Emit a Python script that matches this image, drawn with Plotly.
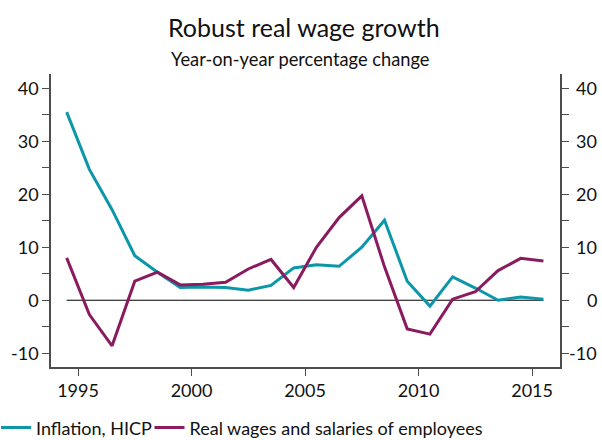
import plotly.graph_objects as go

# ---- data ----
years = list(range(1994, 2016))  # annual observations, plotted at mid-year
inflation_hicp = [35.5, 24.7, 17.1, 8.4, 5.3, 2.4, 2.5, 2.4, 1.9, 2.8, 6.1, 6.7,
                  6.4, 10.0, 15.1, 3.6, -1.1, 4.4, 2.3, 0.0, 0.6, 0.2]
real_wages = [8.0, -2.7, -8.6, 3.6, 5.3, 2.9, 3.0, 3.4, 5.9, 7.7, 2.4, 10.0,
              15.6, 19.7, 6.3, -5.4, -6.4, 0.2, 1.6, 5.6, 7.9, 7.4]
x_tick_years = [1995, 2000, 2005, 2010, 2015]
y_tick_vals = [-10, -5, 0, 5, 10, 15, 20, 25, 30, 35, 40]
y_label_vals = [-10, 0, 10, 20, 30, 40]

title_text = "Robust real wage growth"
subtitle_text = "Year-on-year percentage change"
series_names = ["Inflation, HICP", "Real wages and salaries of employees"]

TEAL = "#0B97A8"
PURPLE = "#8A1B5F"
AXIS = "#4d4d4d"
FONT = "Lato"
TXT = "#111111"

xpos = [y + 0.5 for y in years]

fig = go.Figure()
# zero reference line across the data span
fig.add_trace(go.Scatter(x=[xpos[0], xpos[-1]], y=[0, 0], mode="lines",
                         line=dict(color="black", width=1), showlegend=False,
                         hoverinfo="skip"))
fig.add_trace(go.Scatter(x=xpos, y=inflation_hicp, mode="lines", name=series_names[0],
                         line=dict(color=TEAL, width=3), legend="legend"))
fig.add_trace(go.Scatter(x=xpos, y=real_wages, mode="lines", name=series_names[1],
                         line=dict(color=PURPLE, width=3), legend="legend2"))

def fmt(v):
    return f"{v:d}" if v >= 0 else f"-{abs(v):d}"

tick_text = [fmt(v) if v in y_label_vals else "" for v in y_tick_vals]

legend_common = dict(orientation="h", xanchor="left", y=-0.2077, yanchor="middle",
                     font=dict(family=FONT, size=18, color=TXT),
                     itemwidth=30, bgcolor="rgba(0,0,0,0)")

fig.update_layout(
    width=602, height=440,
    margin=dict(l=51, r=42, t=74, b=73, autoexpand=False),
    paper_bgcolor="white", plot_bgcolor="white",
    font=dict(family=FONT, size=18, color=TXT),
    showlegend=True,
    legend=dict(x=-0.108, **legend_common),
    legend2=dict(x=0.1935, **legend_common),
    xaxis=dict(range=[1993.81, 2016.23], tickmode="array", tickvals=x_tick_years,
               ticktext=[str(v) for v in x_tick_years], automargin=False,
               ticks="outside", ticklen=7, tickwidth=1.2, tickcolor=AXIS,
               showline=True, linecolor=AXIS, linewidth=1.5, showgrid=False,
               zeroline=False, tickfont=dict(size=18)),
    yaxis=dict(range=[-12.6, 42.7], tickmode="array", tickvals=y_tick_vals,
               ticktext=tick_text, ticks="outside", ticklen=7, tickwidth=1.2,
               tickcolor=AXIS, showline=True, mirror="ticks", linecolor=AXIS,
               linewidth=1.5, showgrid=False, zeroline=False, automargin=False,
               tickfont=dict(size=18)),
)

annotations = [
    dict(text=title_text, xref="paper", yref="paper", x=0.497, y=1.162,
         xanchor="center", yanchor="middle", showarrow=False,
         font=dict(family=FONT, size=25, color=TXT)),
    dict(text=subtitle_text, xref="paper", yref="paper", x=0.49, y=1.05,
         xanchor="center", yanchor="middle", showarrow=False,
         font=dict(family=FONT, size=18.3, color=TXT)),
]
# right-hand axis labels (right aligned, as in the reference)
for v in y_label_vals:
    annotations.append(dict(text=fmt(v), xref="paper", yref="y", x=1.076, y=v,
                            xanchor="right", yanchor="middle", showarrow=False,
                            font=dict(family=FONT, size=18, color=TXT)))
fig.update_layout(annotations=annotations)

fig.write_html("out.html", config={"displayModeBar": False},
               post_script="document.body.style.margin='0';document.body.style.overflow='hidden';")
